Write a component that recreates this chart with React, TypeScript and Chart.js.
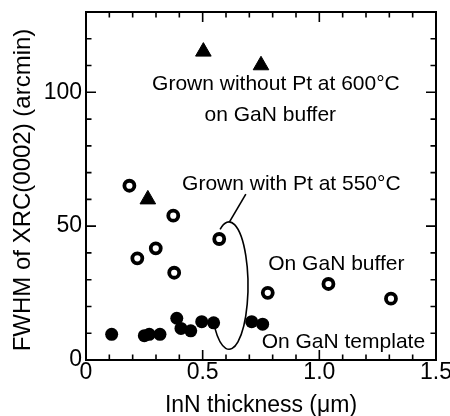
import React, { useEffect, useRef } from "react";
import { Chart, registerables } from "chart.js";

Chart.register(...registerables);

// ---- data ----
const triangleX = [0.503, 0.75, 0.265];
const triangleY = [115.2, 110.1, 60.0];

const openX = [0.186, 0.22, 0.299, 0.374, 0.378, 0.571, 0.779, 1.039, 1.307];
const openY = [65.1, 38.0, 41.7, 53.9, 32.6, 45.2, 25.1, 28.4, 22.9];

const filledX = [0.11, 0.25, 0.271, 0.317, 0.389, 0.407, 0.449, 0.496, 0.547, 0.71, 0.757];
const filledY = [9.6, 9.1, 9.6, 9.6, 15.6, 11.8, 10.9, 14.3, 13.9, 14.3, 13.4];

const xTickValues = [0, 0.5, 1.0, 1.5];
const xTickLabels = ["0", "0.5", "1.0", "1.5"];
const yTickValues = [0, 50, 100];
const yTickLabels = ["0", "50", "100"];
const xMinorCount = 15; // minor ticks every 0.1 up to 1.5
const yMinorCount = 13; // minor ticks every 10 up to 130

const xTitle = "InN thickness (μm)";
const yTitle = "FWHM of XRC(0002) (arcmin)";

const noteTexts = [
  "Grown without Pt at 600°C",
  "on GaN buffer",
  "Grown with Pt at 550°C",
  "On GaN buffer",
  "On GaN template",
];
const noteX = [0.814, 0.79, 0.88, 1.073, 1.103];
const noteY = [103.1, 91.5, 65.5, 35.8, 6.5];

// annotation ellipse (data units) and leader line
const ellipseCenter = [0.613, 27.8];
const ellipseRadius = [0.0814, 23.8];
const ellipseArc = [-2.06, 2.41];
const leaderX = [0.615, 0.685];
const leaderY = [51.6, 62.0];

const FONT = '"Liberation Sans", Arial, Helvetica, sans-serif';

const toPts = (xs: number[], ys: number[]) => xs.map((x, i) => ({ x, y: ys[i] }));

const decorPlugin = {
  id: "decor",
  beforeDatasetsDraw(chart: any) {
    const { ctx } = chart;
    const xs = chart.scales.x;
    const ys = chart.scales.y;
    const cx = xs.getPixelForValue(ellipseCenter[0]);
    const cy = ys.getPixelForValue(ellipseCenter[1]);
    const rx = Math.abs(xs.getPixelForValue(ellipseCenter[0] + ellipseRadius[0]) - cx);
    const ry = Math.abs(ys.getPixelForValue(ellipseCenter[1] + ellipseRadius[1]) - cy);
    ctx.save();
    ctx.strokeStyle = "#000";
    ctx.lineWidth = 1.6;
    ctx.beginPath();
    ctx.ellipse(cx, cy, rx, ry, 0, ellipseArc[0], ellipseArc[1], false);
    ctx.stroke();
    ctx.beginPath();
    ctx.moveTo(xs.getPixelForValue(leaderX[0]), ys.getPixelForValue(leaderY[0]));
    ctx.lineTo(xs.getPixelForValue(leaderX[1]), ys.getPixelForValue(leaderY[1]));
    ctx.stroke();
    ctx.restore();
  },
  afterDatasetsDraw(chart: any) {
    const { ctx, chartArea } = chart;
    const { left, right, top, bottom } = chartArea;
    const xs = chart.scales.x;
    const ys = chart.scales.y;
    ctx.save();
    // texts
    ctx.fillStyle = "#000";
    ctx.font = `21px ${FONT}`;
    ctx.textAlign = "center";
    ctx.textBaseline = "middle";
    noteTexts.forEach((t, i) => {
      ctx.fillText(t, xs.getPixelForValue(noteX[i]), ys.getPixelForValue(noteY[i]));
    });
    // y-axis title (slightly below the plot centre, as in the reference)
    ctx.save();
    ctx.font = `24px ${FONT}`;
    ctx.translate(23.4, (top + bottom) / 2 + 4);
    ctx.rotate(-Math.PI / 2);
    ctx.fillText(yTitle, 0, 0);
    ctx.restore();
    // frame
    ctx.strokeStyle = "#000";
    ctx.lineWidth = 2;
    ctx.strokeRect(left, top, right - left, bottom - top);
    // ticks
    ctx.lineWidth = 1.6;
    ctx.beginPath();
    const xMax = xTickValues[xTickValues.length - 1];
    for (let i = 1; i < xMinorCount; i++) {
      const v = (i * xMax) / xMinorCount;
      const major = xTickValues.some((t) => Math.abs(t - v) < 1e-6);
      const len = major ? 10 : 5.5;
      const px = xs.getPixelForValue(v);
      ctx.moveTo(px, bottom);
      ctx.lineTo(px, bottom - len);
      ctx.moveTo(px, top);
      ctx.lineTo(px, top + len);
    }
    for (let i = 1; i < yMinorCount; i++) {
      const v = i * 10;
      const major = yTickValues.some((t) => Math.abs(t - v) < 1e-6);
      const len = major ? 10 : 5.5;
      const py = ys.getPixelForValue(v);
      ctx.moveTo(left, py);
      ctx.lineTo(left + len, py);
      ctx.moveTo(right, py);
      ctx.lineTo(right - len, py);
    }
    ctx.stroke();
    ctx.restore();
  },
};

export default function App() {
  const ref = useRef<HTMLCanvasElement | null>(null);
  useEffect(() => {
    if (!ref.current) return;
    const chart = new Chart(ref.current, {
      type: "scatter",
      data: {
        datasets: [
          {
            data: toPts(filledX, filledY),
            pointStyle: "circle",
            pointRadius: 6.5,
            backgroundColor: "#000",
            borderColor: "#000",
            borderWidth: 0,
          },
          {
            data: toPts(openX, openY),
            pointStyle: "circle",
            pointRadius: 5,
            backgroundColor: "#fff",
            borderColor: "#000",
            borderWidth: 3.8,
          },
          {
            data: toPts(triangleX, triangleY),
            pointStyle: "triangle",
            pointRadius: 9,
            backgroundColor: "#000",
            borderColor: "#000",
            borderWidth: 1,
          },
        ],
      } as any,
      options: {
        animation: false,
        responsive: false,
        maintainAspectRatio: false,
        layout: { padding: { top: 12, right: 14, left: 0, bottom: 0 } },
        plugins: { legend: { display: false }, tooltip: { enabled: false } },
        scales: {
          x: {
            type: "linear",
            min: 0,
            max: 1.5,
            grid: { display: false, drawTicks: false },
            border: { display: false },
            afterBuildTicks: (s: any) => {
              s.ticks = xTickValues.map((v) => ({ value: v }));
            },
            afterFit: (s: any) => {
              s.height = 56;
              s.paddingLeft = 0;
              s.paddingRight = 0;
            },
            ticks: {
              autoSkip: false,
              maxRotation: 0,
              padding: 1,
              color: "#000",
              font: { family: FONT, size: 23, lineHeight: 1 },
              callback: (v: any) => xTickLabels[xTickValues.indexOf(Number(v))] ?? "",
            },
            title: {
              display: true,
              text: xTitle,
              color: "#000",
              padding: 0,
              font: { family: FONT, size: 23, lineHeight: 0.93 },
            },
          },
          y: {
            type: "linear",
            min: 0,
            max: 130,
            grid: { display: false, drawTicks: false },
            border: { display: false },
            afterBuildTicks: (s: any) => {
              s.ticks = yTickValues.map((v) => ({ value: v }));
            },
            afterFit: (s: any) => {
              s.width = 86;
              s.paddingTop = 0;
              s.paddingBottom = 0;
            },
            ticks: {
              autoSkip: false,
              padding: 4,
              color: "#000",
              font: { family: FONT, size: 23, lineHeight: 1 },
              callback: (v: any) => yTickLabels[yTickValues.indexOf(Number(v))] ?? "",
            },
            title: { display: false },
          },
        },
      } as any,
      plugins: [decorPlugin],
    });
    return () => chart.destroy();
  }, []);
  return (
    <div style={{ position: "fixed", left: 0, top: 0, width: 450, height: 416, background: "#fff" }}>
      <canvas ref={ref} width={450} height={416} style={{ width: 450, height: 416, display: "block" }} />
    </div>
  );
}
